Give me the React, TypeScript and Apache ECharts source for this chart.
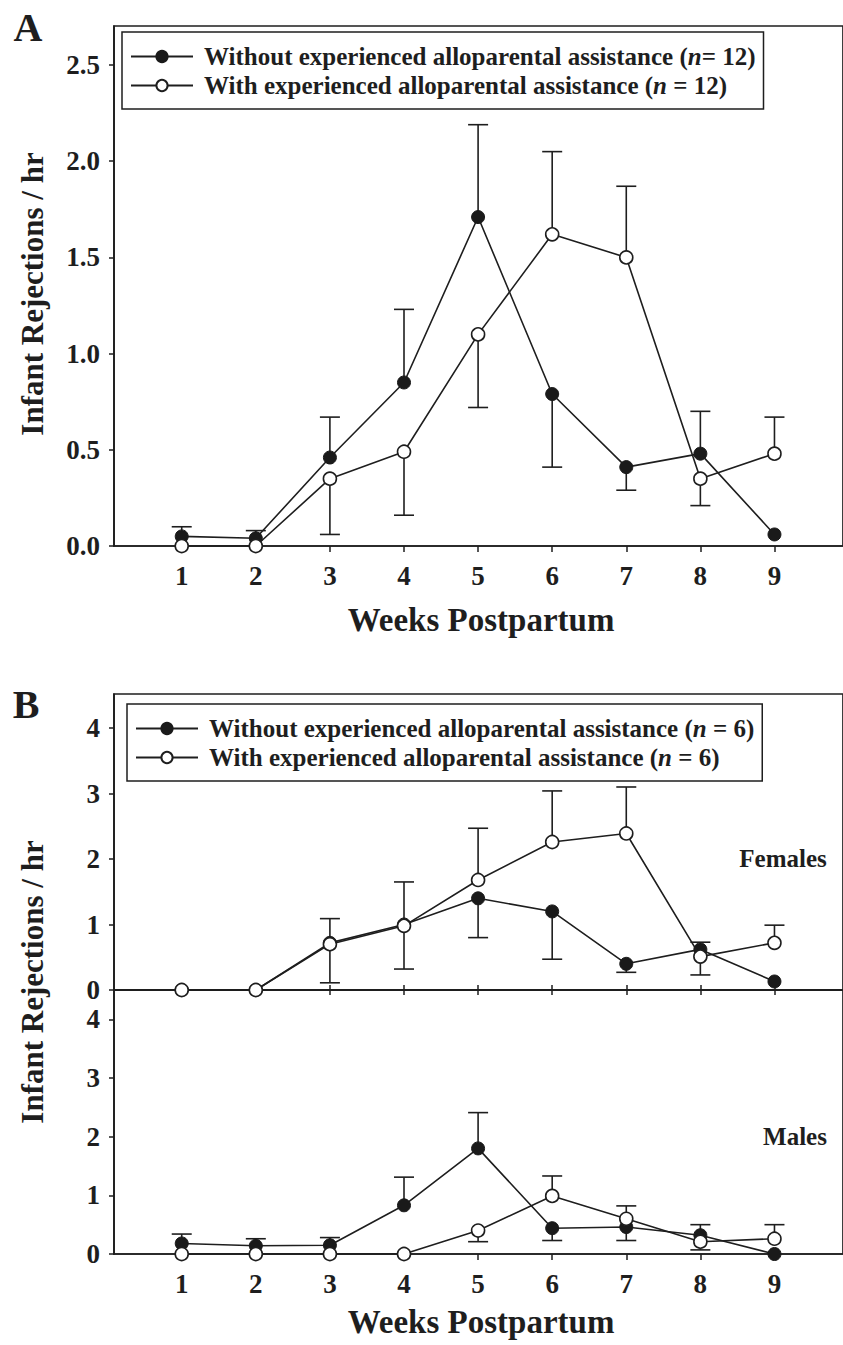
import React, { useEffect, useRef } from "react";
import * as echarts from "echarts";

// ---- data ----
const weeks = [1, 2, 3, 4, 5, 6, 7, 8, 9];

// Panel A
const aWithout = [0.05, 0.04, 0.46, 0.85, 1.71, 0.79, 0.41, 0.48, 0.06];
const aWithoutErr = [0.1, 0.08, 0.67, 1.23, 2.19, 0.41, 0.29, 0.7, null];
const aWith = [0, 0, 0.35, 0.49, 1.1, 1.62, 1.5, 0.35, 0.48];
const aWithErr = [null, null, 0.06, 0.16, 0.72, 2.05, 1.87, 0.21, 0.67];

// Panel B – females
const fWithout = [0, 0, 0.72, 1.0, 1.4, 1.2, 0.4, 0.62, 0.13];
const fWithoutErr = [null, null, 1.09, 1.65, 0.8, 0.47, 0.27, 0.73, null];
const fWith = [0, 0, 0.7, 0.98, 1.68, 2.26, 2.39, 0.51, 0.72];
const fWithErr = [null, null, 0.11, 0.32, 2.47, 3.04, 3.1, 0.23, 0.99];

// Panel B – males
const mWithout = [0.18, 0.14, 0.15, 0.83, 1.8, 0.44, 0.46, 0.32, 0];
const mWithoutErr = [0.34, 0.26, 0.28, 1.31, 2.41, 0.23, 0.23, 0.5, null];
const mWith = [0, 0, 0, 0, 0.4, 0.99, 0.6, 0.21, 0.26];
const mWithErr = [null, null, null, null, 0.21, 1.33, 0.82, 0.07, 0.5];

const aTicks = [0, 0.5, 1, 1.5, 2, 2.5];
const bTicks = [0, 1, 2, 3, 4];

const legendA: Record<string, string> = {
  aWithout: "{t|Without experienced alloparental assistance (}{i|n}{t|= 12)}",
  aWith: "{t|With experienced alloparental assistance (}{i|n}{t| = 12)}",
};
const legendB: Record<string, string> = {
  bWithout: "{t|Without experienced alloparental assistance (}{i|n}{t| = 6)}",
  bWith: "{t|With experienced alloparental assistance (}{i|n}{t| = 6)}",
};

// ---- style ----
const FONT = "'Liberation Serif', 'Times New Roman', serif";
const INK = "#1e1e1e";
const X_MIN = 0.086;
const X_MAX = 9.925;

function pts(vals: (number | null)[]) {
  return weeks.map((w, i) => [w, vals[i]]);
}
function errs(vals: number[], ends: (number | null)[]) {
  const out: number[][] = [];
  weeks.forEach((w, i) => {
    if (ends[i] != null) out.push([w, vals[i], ends[i] as number]);
  });
  return out;
}

function xAxis(gridIndex: number, extra: any = {}) {
  return {
    type: "value",
    gridIndex,
    min: X_MIN,
    max: X_MAX,
    position: "bottom",
    axisLine: { show: true, onZero: false, lineStyle: { color: INK, width: 1.7 } },
    axisTick: { show: true, customValues: weeks, length: 6, lineStyle: { color: INK, width: 1.5 } },
    axisLabel: {
      show: true,
      customValues: weeks,
      margin: 16,
      color: INK,
      fontFamily: FONT,
      fontWeight: "bold",
      fontSize: 27,
    },
    splitLine: { show: false },
    ...extra,
  };
}

function yAxis(gridIndex: number, max: number, ticks: number[], fmt: (v: number) => string) {
  return {
    type: "value",
    gridIndex,
    min: 0,
    max,
    axisLine: { show: true, onZero: false, lineStyle: { color: INK, width: 1.7 } },
    axisTick: { show: true, customValues: ticks, length: 5, lineStyle: { color: INK, width: 1.5 } },
    axisLabel: {
      show: true,
      customValues: ticks,
      formatter: fmt,
      margin: 14,
      color: INK,
      fontFamily: FONT,
      fontWeight: "bold",
      fontSize: 27,
    },
    splitLine: { show: false },
  };
}

function errSeries(xi: number, yi: number, data: number[][]) {
  return {
    type: "custom",
    xAxisIndex: xi,
    yAxisIndex: yi,
    z: 2,
    silent: true,
    encode: { x: 0, y: [1, 2] },
    data,
    renderItem: (params: any, api: any) => {
      const x = api.value(0);
      const p0 = api.coord([x, api.value(1)]);
      const p1 = api.coord([x, api.value(2)]);
      const st = { stroke: INK, lineWidth: 1.6 };
      return {
        type: "group",
        children: [
          { type: "line", shape: { x1: p0[0], y1: p0[1], x2: p1[0], y2: p1[1] }, style: st },
          { type: "line", shape: { x1: p1[0] - 10, y1: p1[1], x2: p1[0] + 10, y2: p1[1] }, style: st },
        ],
      };
    },
  };
}

function lineSeries(name: string, xi: number, yi: number, vals: number[], filled: boolean) {
  return {
    type: "line",
    name,
    xAxisIndex: xi,
    yAxisIndex: yi,
    z: filled ? 3 : 4,
    silent: true,
    data: pts(vals),
    symbol: "circle",
    symbolSize: 13,
    showSymbol: true,
    lineStyle: { color: INK, width: 1.6 },
    itemStyle: filled
      ? { color: "#1a1a1a", borderColor: "#1a1a1a", borderWidth: 1 }
      : { color: "#ffffff", borderColor: INK, borderWidth: 1.6 },
    emphasis: { disabled: true },
  };
}

function legend(names: string[], left: number, top: number, map: Record<string, string>) {
  const base = { fontFamily: FONT, fontWeight: "bold", fontSize: 25, color: INK, lineHeight: 29 };
  return {
    data: names,
    orient: "vertical",
    left,
    top,
    itemWidth: 62,
    itemHeight: 14,
    itemGap: 0,
    padding: [10, 8, 9, 8],
    borderColor: INK,
    borderWidth: 1.5,
    backgroundColor: "#ffffff",
    selectedMode: false,
    z: 10,
    formatter: (n: string) => map[n],
    textStyle: {
      ...base,
      padding: [0, 0, 0, 6],
      rich: { t: { ...base }, i: { ...base, fontStyle: "italic" } },
    },
  };
}

function txt(text: string, x: number, y: number, size: number, rotation = 0) {
  return {
    type: "text",
    x,
    y,
    rotation,
    z: 20,
    style: {
      text,
      fill: INK,
      fontFamily: FONT,
      fontWeight: "bold",
      fontSize: size,
      align: "center",
      verticalAlign: "middle",
    },
  };
}

export default function App() {
  const ref = useRef<HTMLDivElement>(null);

  useEffect(() => {
    if (!ref.current) return;
    const chart = echarts.init(ref.current, null, { renderer: "svg" });
    const gridBase = { left: 114, width: 735, show: true, borderColor: INK, borderWidth: 1.7, backgroundColor: "transparent" };
    chart.setOption({
      animation: false,
      backgroundColor: "#ffffff",
      grid: [
        { ...gridBase, top: 26, height: 520 },
        { ...gridBase, top: 694, height: 296 },
        { ...gridBase, top: 990, height: 264 },
      ],
      xAxis: [
        xAxis(0),
        xAxis(1, { axisLabel: { show: false, customValues: weeks }, axisTick: { show: true, customValues: weeks, length: 5, lineStyle: { color: INK, width: 1.5 } } }),
        xAxis(2),
        xAxis(2, { position: "top", axisLabel: { show: false, customValues: weeks }, axisTick: { show: true, customValues: weeks, length: 5, lineStyle: { color: INK, width: 1.5 } } }),
      ],
      yAxis: [
        yAxis(0, 2.703, aTicks, (v: number) => v.toFixed(1)),
        yAxis(1, 4.52, bTicks, (v: number) => String(v)),
        yAxis(2, 4.5, bTicks, (v: number) => String(v)),
      ],
      legend: [
        legend(["aWithout", "aWith"], 122, 32, legendA),
        legend(["bWithout", "bWith"], 127, 704, legendB),
      ],
      series: [
        errSeries(0, 0, errs(aWithout, aWithoutErr)),
        errSeries(0, 0, errs(aWith, aWithErr)),
        lineSeries("aWithout", 0, 0, aWithout, true),
        lineSeries("aWith", 0, 0, aWith, false),
        errSeries(1, 1, errs(fWithout, fWithoutErr)),
        errSeries(1, 1, errs(fWith, fWithErr)),
        lineSeries("bWithout", 1, 1, fWithout, true),
        lineSeries("bWith", 1, 1, fWith, false),
        errSeries(2, 2, errs(mWithout, mWithoutErr)),
        errSeries(2, 2, errs(mWith, mWithErr)),
        lineSeries("bWithout", 2, 2, mWithout, true),
        lineSeries("bWith", 2, 2, mWith, false),
      ],
      graphic: [
        txt("A", 28, 27, 40),
        txt("B", 26, 704, 40),
        txt("Infant Rejections / hr", 32, 294, 31, Math.PI / 2),
        txt("Infant Rejections / hr", 32, 982, 31, Math.PI / 2),
        txt("Weeks Postpartum", 481, 620, 33),
        txt("Weeks Postpartum", 481, 1322, 33),
        txt("Females", 783, 858, 25),
        txt("Males", 795, 1136, 25),
      ],
    });
    return () => chart.dispose();
  }, []);

  return (
    <div
      ref={ref}
      style={{ position: "absolute", left: 0, top: 0, width: 843, height: 1345, background: "#fff" }}
    />
  );
}
